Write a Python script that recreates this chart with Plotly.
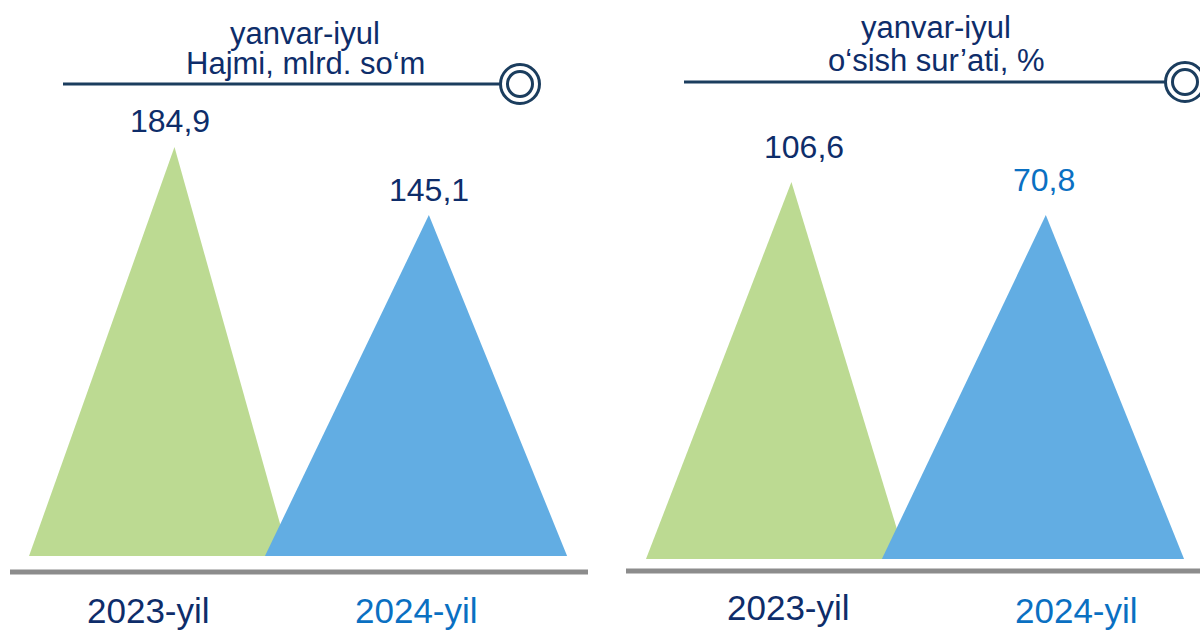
import plotly.graph_objects as go

# ---- data ----
categories = ["2023-yil", "2024-yil"]
volume_values = [184.9, 145.1]          # Hajmi, mlrd. so'm
growth_values = [106.6, 70.8]           # o'sish sur'ati, %
volume_labels = ["184,9", "145,1"]
growth_labels = ["106,6", "70,8"]
title_period = "yanvar-iyul"
title_left = "Hajmi, mlrd. so\u2018m"
title_right = "o\u2018sish sur\u2019ati, %"

# ---- styles ----
FONT = "Liberation Sans, Arial, sans-serif"
NAVY = "#0e2d6a"
BLUE_TXT = "#0a70c2"
LINE = "#1b3d5e"
GRAY = "#8c8c8c"
fills = ["#bcda92", "#62ade3"]
year_colors = [NAVY, BLUE_TXT]
half_w = [0.506, 0.588]
skew = [0.06, 0.05]

W, H = 1200, 630

fig = go.Figure()

panels = [
    dict(xa="x", ya="y", vals=volume_values, labels=volume_labels,
         label_colors=[NAVY, NAVY], base=-54.5, yr=[-97.8, 271.0],
         xr=[-0.619, 1.716], dom=[0.0, 0.5], lshift=[(-4, 26), (0, 25)]),
    dict(xa="x2", ya="y2", vals=growth_values, labels=growth_labels,
         label_colors=[NAVY, BLUE_TXT], base=-302.5, yr=[-379.5, 304.1],
         xr=[-0.685, 1.650], dom=[0.5, 1.0], lshift=[(13, 35), (-2, 35)]),
]

annotations = []
for p in panels:
    for i, (cat, v) in enumerate(zip(categories, p["vals"])):
        c = i
        xs = [c - half_w[i], c + skew[i], c + half_w[i], c - half_w[i]]
        ys = [p["base"], v, p["base"], p["base"]]
        fig.add_trace(go.Scatter(
            x=xs, y=ys, xaxis=p["xa"], yaxis=p["ya"], mode="lines",
            fill="toself", fillcolor=fills[i], line=dict(width=0, color=fills[i]),
            hoverinfo="skip", showlegend=False))
        dx, dy = p["lshift"][i]
        annotations.append(dict(
            x=c + skew[i], y=v, xref=p["xa"], yref=p["ya"], text=p["labels"][i],
            showarrow=False, xshift=dx, yshift=dy, xanchor="center", yanchor="middle",
            font=dict(family=FONT, size=32, color=p["label_colors"][i])))

# year labels
year_pos = [
    (0, 148, 610), (1, 416, 610),
    (0, 788, 607), (1, 1076, 610),
]
for i, px, py in year_pos:
    annotations.append(dict(
        x=px / W, y=1 - py / H, xref="paper", yref="paper", text=categories[i],
        showarrow=False, xanchor="center", yanchor="middle",
        font=dict(family=FONT, size=35, color=year_colors[i])))

# titles
for cx, y1, y2, t in [(305, 33, 64, title_left), (936, 28, 60, title_right)]:
    annotations.append(dict(x=cx / W, y=1 - y1 / H, xref="paper", yref="paper",
                            text=title_period, showarrow=False,
                            xanchor="center", yanchor="middle",
                            font=dict(family=FONT, size=31, color=NAVY)))
    annotations.append(dict(x=cx / W, y=1 - y2 / H, xref="paper", yref="paper",
                            text=t, showarrow=False,
                            xanchor="center", yanchor="middle",
                            font=dict(family=FONT, size=31, color=NAVY)))

shapes = []
# gray base bars
for x0, x1, y in [(10, 588, 572), (626, 1200, 571)]:
    shapes.append(dict(type="line", xref="paper", yref="paper",
                       x0=x0 / W, x1=x1 / W, y0=1 - y / H, y1=1 - y / H,
                       line=dict(color=GRAY, width=5)))
# title rules with ring markers
for x0, x1, y, cx in [(63, 502, 84, 520), (684, 1167, 82, 1185)]:
    shapes.append(dict(type="line", xref="paper", yref="paper",
                       x0=x0 / W, x1=x1 / W, y0=1 - y / H, y1=1 - y / H,
                       line=dict(color=LINE, width=3)))
    for r in (19.5, 12.5):
        shapes.append(dict(type="circle", xref="paper", yref="paper",
                           x0=(cx - r) / W, x1=(cx + r) / W,
                           y0=1 - (y + r) / H, y1=1 - (y - r) / H,
                           fillcolor="white", line=dict(color=LINE, width=3)))

ax_common = dict(visible=False, showgrid=False, zeroline=False, fixedrange=True)
fig.update_layout(
    width=W, height=H,
    margin=dict(l=0, r=0, t=0, b=0),
    paper_bgcolor="white", plot_bgcolor="white",
    xaxis=dict(domain=panels[0]["dom"], range=panels[0]["xr"], anchor="y", **ax_common),
    yaxis=dict(domain=[0, 1], range=panels[0]["yr"], anchor="x", **ax_common),
    xaxis2=dict(domain=panels[1]["dom"], range=panels[1]["xr"], anchor="y2", **ax_common),
    yaxis2=dict(domain=[0, 1], range=panels[1]["yr"], anchor="x2", **ax_common),
    annotations=annotations,
    shapes=shapes,
    showlegend=False,
)

fig.write_html(
    "out.html",
    config={"displayModeBar": False},
    post_script="document.body.style.margin='0';document.body.style.overflow='hidden';",
)
